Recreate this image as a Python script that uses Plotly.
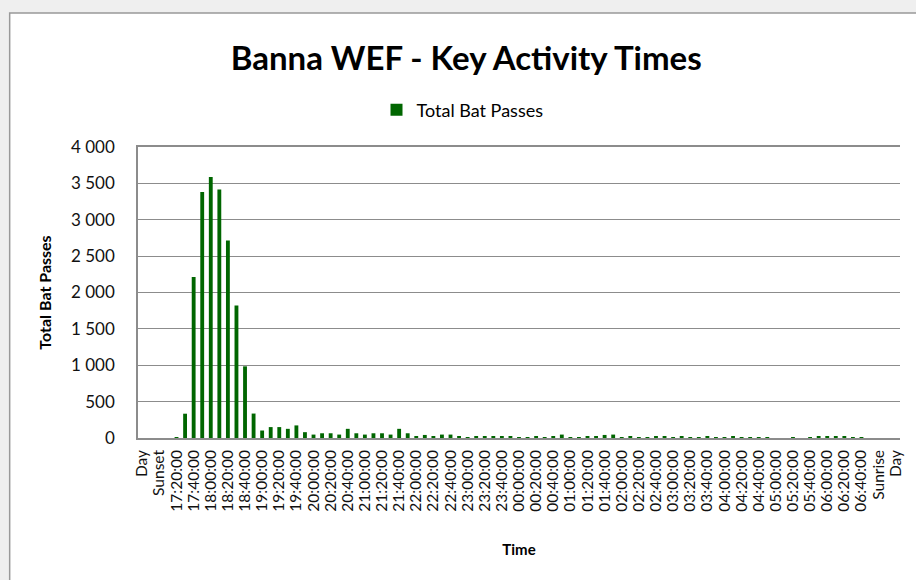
import plotly.graph_objects as go

# Night-time bins (10-minute steps) with the sunset/sunrise markers
categories = (
    ["Day", "17:00:00", "Sunset", "17:10:00"]
    + [f"{(17 * 60 + 20 + 10 * k) // 60 % 24:02d}:{(17 * 60 + 20 + 10 * k) % 60:02d}:00" for k in range(82)]
    + ["Sunrise", "07:00:00", "Day"]
)

bat_passes = [
    0, 0, 0, 0, 10, 334, 2212, 3380, 3586, 3417,
    2716, 1823, 985, 336, 103, 150, 150, 126, 173, 80,
    47, 65, 65, 47, 126, 65, 47, 65, 65, 47,
    126, 65, 23, 42, 23, 47, 47, 19, 5, 19,
    19, 19, 19, 19, 5, 5, 19, 5, 19, 47,
    5, 5, 19, 19, 42, 47, 5, 19, 5, 5,
    19, 19, 5, 19, 5, 5, 19, 5, 5, 19,
    5, 5, 5, 5, 0, 0, 5, 0, 5, 19,
    19, 19, 19, 5, 5, 0, 0, 0, 0,
]

y_ticks = [0, 500, 1000, 1500, 2000, 2500, 3000, 3500, 4000]

positions = list(range(len(categories)))
label_positions = positions[::2]
label_text = categories[::2]

FONT = "Lato"
GREEN = "#006600"
GRID = "#8c8c8c"

fig = go.Figure(
    go.Bar(
        x=positions,
        y=bat_passes,
        name="Total Bat Passes",
        marker=dict(color=GREEN, line=dict(width=0)),
        hovertext=categories,
    )
)

fig.update_layout(
    width=916,
    height=580,
    margin=dict(l=138, r=12, t=147, b=142),
    paper_bgcolor="#efefef",
    plot_bgcolor="rgba(0,0,0,0)",
    separators=". ",
    font=dict(family=FONT, color="#000000"),
    bargap=0.55,
    title=dict(
        text="<b>Banna WEF - Key Activity Times</b>",
        font=dict(family=FONT, size=33, color="#000000"),
        x=0.509,
        xanchor="center",
        y=1 - 58 / 580,
        yanchor="middle",
    ),
    showlegend=True,
    legend=dict(
        orientation="h",
        x=0.313,
        xanchor="left",
        y=1.127,
        yanchor="middle",
        font=dict(family=FONT, size=18),
        bgcolor="rgba(0,0,0,0)",
        itemwidth=30,
    ),
    shapes=[
        # white chart frame with a grey edge
        dict(
            type="rect",
            xref="paper",
            yref="paper",
            x0=(9 - 138) / 766,
            x1=(940 - 138) / 766,
            y0=(438 - 620) / 291,
            y1=(438 - 13) / 291,
            fillcolor="#ffffff",
            line=dict(color="#999999", width=1.5),
            layer="below",
        )
    ],
)

fig.update_xaxes(
    range=[-0.5, len(categories) - 0.5],
    tickmode="array",
    tickvals=label_positions,
    ticktext=label_text,
    tickangle=-90,
    tickfont=dict(family=FONT, size=15.5, color="#111111"),
    ticks="",
    ticklabelstandoff=4,
    showgrid=False,
    showline=True,
    mirror=True,
    linecolor=GRID,
    linewidth=1.5,
    zeroline=False,
    title=dict(text="<b>Time</b>", font=dict(family=FONT, size=15), standoff=34),
)

fig.update_yaxes(
    range=[0, 4000],
    tickmode="array",
    tickvals=y_ticks,
    tickformat=",d",
    tickfont=dict(family=FONT, size=17, color="#111111"),
    ticks="",
    ticklabelstandoff=18,
    showgrid=True,
    gridcolor=GRID,
    gridwidth=1.2,
    showline=True,
    linecolor=GRID,
    linewidth=1.5,
    zeroline=False,
    title=dict(text="<b>Total Bat Passes</b>", font=dict(family=FONT, size=16), standoff=15),
)

fig.write_html("out.html")
